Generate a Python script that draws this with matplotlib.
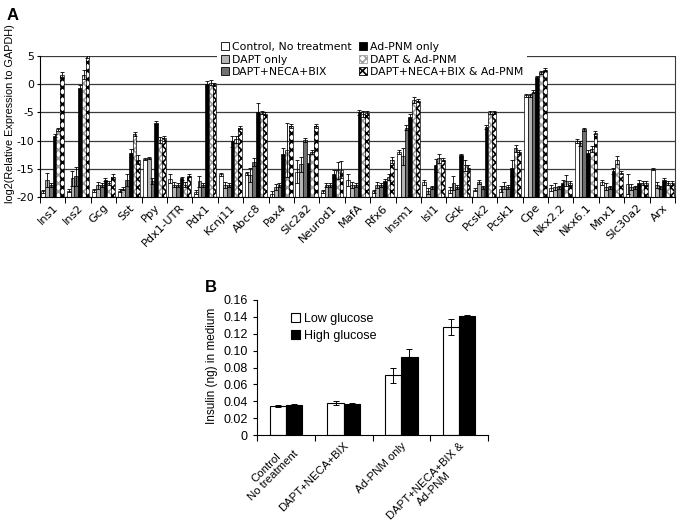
import numpy as np
import matplotlib.pyplot as plt
from matplotlib.patches import Patch
from matplotlib.ticker import FuncFormatter

plt.rcParams['font.family'] = ['DejaVu Sans']
plt.rcParams['axes.unicode_minus'] = False
plt.rcParams['hatch.linewidth'] = 1.2

# ---- panel A data (log2 expression relative to GAPDH) ----
genes = ['Ins1', 'Ins2', 'Gcg', 'Sst', 'Ppy', 'Pdx1-UTR', 'Pdx1', 'Kcnj11', 'Abcc8', 'Pax4',
         'Slc2a2', 'Neurod1', 'MafA', 'Rfx6', 'Insm1', 'Isl1', 'Gck', 'Pcsk2', 'Pcsk1', 'Cpe',
         'Nkx2.2', 'Nkx6.1', 'Mnx1', 'Slc30a2', 'Arx']
ctrl = [-19.0, -18.9, -18.8, -18.9, -13.2, -16.8, -19.1, -16.0, -15.8, -19.5,
        -15.5, -19.0, -17.0, -19.0, -12.0, -17.4, -18.8, -18.7, -18.6, -2.0,
        -18.4, -10.1, -17.4, -17.7, -15.0]
dapt = [-17.0, -16.7, -17.9, -18.5, -13.1, -17.8, -17.2, -17.9, -16.1, -18.2,
        -14.2, -17.9, -17.9, -17.9, -12.8, -18.9, -17.5, -17.3, -18.0, -2.0,
        -18.2, -10.5, -18.2, -18.2, -17.9]
dnb = [-17.9, -16.3, -17.9, -17.0, -17.2, -17.9, -17.9, -17.9, -13.8, -17.9,
       -9.9, -17.9, -17.9, -17.9, -7.7, -18.3, -18.2, -18.3, -18.2, -1.3,
       -18.3, -8.0, -18.3, -18.3, -18.3]
adpnm = [-9.1, -0.6, -16.9, -12.2, -6.8, -16.7, 0.0, -10.1, -5.0, -12.3,
         -13.9, -16.0, -5.0, -17.1, -5.8, -14.4, -12.6, -7.6, -14.8, 1.2,
         -17.5, -12.2, -15.4, -17.5, -17.0]
dapt_ad = [-8.0, 1.7, -17.5, -8.8, -9.9, -17.8, 0.3, -9.8, -5.0, -11.6,
           -12.0, -15.3, -5.3, -16.4, -2.8, -13.1, -14.4, -5.0, -11.4, 2.1,
           -17.1, -11.5, -13.4, -17.5, -17.5]
dnb_ad = [1.6, 5.0, -16.4, -13.4, -9.6, -16.2, -0.1, -7.7, -5.2, -7.4,
          -7.4, -15.2, -5.1, -13.4, -2.9, -13.4, -14.9, -5.0, -12.0, 2.6,
          -17.5, -8.6, -15.7, -17.5, -17.5]

ctrl_err = [0.3, 0.3, 0.3, 0.3, 0.2, 0.8, 0.3, 0.3, 0.3, 0.5, 2.0, 0.3, 1.0, 0.3, 0.3,
            0.5, 0.5, 0.3, 0.5, 0.2, 0.5, 0.4, 0.5, 1.7, 0.2]
dapt_err = [1.2, 1.3, 0.6, 0.3, 0.2, 0.5, 1.0, 0.5, 1.2, 0.5, 1.3, 0.4, 0.5, 0.5, 1.5,
            0.5, 1.3, 0.4, 0.6, 0.2, 0.6, 0.4, 0.6, 0.5, 0.5]
dnb_err = [0.3, 1.7, 0.3, 1.0, 0.5, 0.3, 0.3, 0.3, 0.7, 0.3, 0.3, 0.3, 0.3, 0.3, 0.5,
           0.3, 0.3, 0.3, 0.3, 0.2, 0.3, 0.3, 0.3, 0.3, 0.3]
adpnm_err = [0.3, 0.4, 0.3, 0.7, 0.3, 0.3, 0.5, 1.0, 1.7, 1.0, 1.5, 0.7, 0.5, 0.3, 0.5,
             1.2, 0.3, 0.3, 1.4, 0.3, 0.5, 0.5, 0.5, 0.5, 0.3]
dapt_ad_err = [0.3, 0.8, 0.4, 0.3, 0.5, 0.4, 0.5, 0.7, 0.3, 4.8, 0.3, 1.5, 0.6, 0.5, 0.5,
               0.8, 1.0, 0.2, 0.7, 0.3, 1.0, 0.5, 0.7, 0.3, 0.3]
dnb_ad_err = [0.5, 0.3, 0.4, 0.8, 0.4, 0.3, 0.3, 0.3, 0.3, 0.3, 0.3, 1.5, 0.3, 0.5, 0.3,
              0.3, 0.5, 0.2, 0.3, 0.3, 0.3, 0.3, 0.3, 0.3, 0.3]

series_names = ['Control, No treatment', 'DAPT only', 'DAPT+NECA+BIX',
                'Ad-PNM only', 'DAPT & Ad-PNM', 'DAPT+NECA+BIX & Ad-PNM']

# ---- panel B data (insulin in medium, ng) ----
groups_b = ['Control\nNo treatment', 'DAPT+NECA+BIX', 'Ad-PNM only', 'DAPT+NECA+BIX &\nAd-PNM']
low_glc = [0.034, 0.038, 0.071, 0.128]
high_glc = [0.035, 0.037, 0.093, 0.141]
low_err = [0.001, 0.002, 0.009, 0.009]
high_err = [0.002, 0.001, 0.009, 0.001]

fig = plt.figure(figsize=(6.83, 5.29), dpi=100)

# ================= panel A =================
axA = fig.add_axes([40 / 683, 1 - 197 / 529, 635 / 683, 141 / 529])
x = np.arange(len(genes))
w = 0.148
# (facecolor, hatch, hatch colour)
styles = [('white', None, None), ('#b4b4b4', None, None), ('#707070', None, None),
          ('black', None, None), ('white', 'xxxx', '#a0a0a0'), ('white', 'xxxx', 'black')]
vals = [ctrl, dapt, dnb, adpnm, dapt_ad, dnb_ad]
errs = [ctrl_err, dapt_err, dnb_err, adpnm_err, dapt_ad_err, dnb_ad_err]
base = -20
handles = []
for k, (v, e, (fc, h, hc)) in enumerate(zip(vals, errs, styles)):
    pos = x + (k - 2.5) * w
    heights = np.array(v) - base
    if h is None:
        axA.bar(pos, heights, w, bottom=base, color=fc, edgecolor='black', linewidth=0.5, zorder=2)
    else:
        axA.bar(pos, heights, w, bottom=base, color=fc, edgecolor=hc, hatch=h, linewidth=0, zorder=2)
        axA.bar(pos, heights, w, bottom=base, fill=False, edgecolor='black', linewidth=0.5, zorder=2)
    axA.errorbar(pos, v, yerr=e, fmt='none', ecolor='black', elinewidth=0.6, capsize=1.5,
                 capthick=0.6, zorder=3)
    handles.append(Patch(facecolor=fc, edgecolor=hc if h else 'black', hatch=h, linewidth=0.6,
                         label=series_names[k]))

axA.set_xlim(-0.5, len(genes) - 0.5)
axA.set_ylim(-20, 5)
axA.set_yticks(np.arange(-20, 6, 5))
axA.grid(axis='y', color='#3a3a3a', linewidth=0.9)
axA.set_axisbelow(True)
axA.spines['top'].set_visible(False)
axA.spines['right'].set_color('#3a3a3a')
axA.set_xticks(x)
axA.set_xticklabels(genes, rotation=45, ha='right', rotation_mode='anchor', fontsize=8.2)
axA.set_xticks(np.arange(-0.5, len(genes), 1), minor=True)
axA.tick_params(axis='x', which='major', length=0, pad=4)
axA.tick_params(axis='x', which='minor', length=4, width=0.7)
axA.tick_params(axis='y', length=2.5, pad=1.5, labelsize=7.8)

fig.text(10 / 683, 1 - 114 / 529, 'log2(Relative Expression to GAPDH)', rotation=90,
         ha='center', va='center', fontsize=7.8, family='Liberation Sans')
fig.text(7 / 683, 1 - 15 / 529, 'A', fontsize=12, weight='bold', va='center',
         family='Liberation Sans')

legA = fig.legend(handles=handles, ncol=2, loc='upper left',
                  bbox_to_anchor=(212 / 683, 1 - 33 / 529), fontsize=7.8,
                  frameon=True, facecolor='white', edgecolor='none', framealpha=1,
                  handlelength=0.75, handleheight=0.75, handletextpad=0.25,
                  columnspacing=0.7, labelspacing=0.22, borderpad=0.35, fancybox=False)

# ================= panel B =================
fb = 'Liberation Sans'
axB = fig.add_axes([257 / 683, 1 - 435 / 529, 231 / 683, 135 / 529])
xb = np.arange(len(groups_b))
wb = 0.28
axB.bar(xb - wb / 2, low_glc, wb, color='white', edgecolor='black', linewidth=0.8, label='Low glucose')
axB.bar(xb + wb / 2, high_glc, wb, color='black', edgecolor='black', linewidth=0.8, label='High glucose')
axB.errorbar(xb - wb / 2, low_glc, yerr=low_err, fmt='none', ecolor='black', elinewidth=0.7,
             capsize=2.5, capthick=0.7)
axB.errorbar(xb + wb / 2, high_glc, yerr=high_err, fmt='none', ecolor='black', elinewidth=0.7,
             capsize=2.5, capthick=0.7)
axB.set_xlim(-0.5, len(groups_b) - 0.5)
axB.set_ylim(0, 0.16)
axB.set_yticks(np.arange(0, 0.161, 0.02))
axB.yaxis.set_major_formatter(FuncFormatter(lambda v, p: '0' if v == 0 else '%.2f' % v))
axB.spines['top'].set_visible(False)
axB.spines['right'].set_visible(False)
axB.set_xticks(xb)
axB.set_xticklabels(groups_b, rotation=45, ha='right', rotation_mode='anchor', fontsize=8.2,
                    family=fb, linespacing=1.1, multialignment='center')
axB.set_xticks(np.arange(-0.5, len(groups_b), 1), minor=True)
axB.tick_params(axis='x', which='major', length=0, pad=4)
axB.tick_params(axis='x', which='minor', length=4, width=0.8)
axB.tick_params(axis='y', length=3, labelsize=9)
for t in axB.get_yticklabels():
    t.set_family(fb)

fig.text(212 / 683, 1 - 366 / 529, 'Insulin (ng) in medium', rotation=90, ha='center',
         va='center', fontsize=8.5, family=fb)
fig.text(205 / 683, 1 - 288 / 529, 'B', fontsize=12, weight='bold', va='center', family=fb)
axB.legend(loc='upper left', bbox_to_anchor=(0.1, 0.99), frameon=False,
           handlelength=0.7, handleheight=0.7, handletextpad=0.3, labelspacing=0.4,
           prop={'family': fb, 'size': 9})

fig.savefig('out.png', dpi=100)
